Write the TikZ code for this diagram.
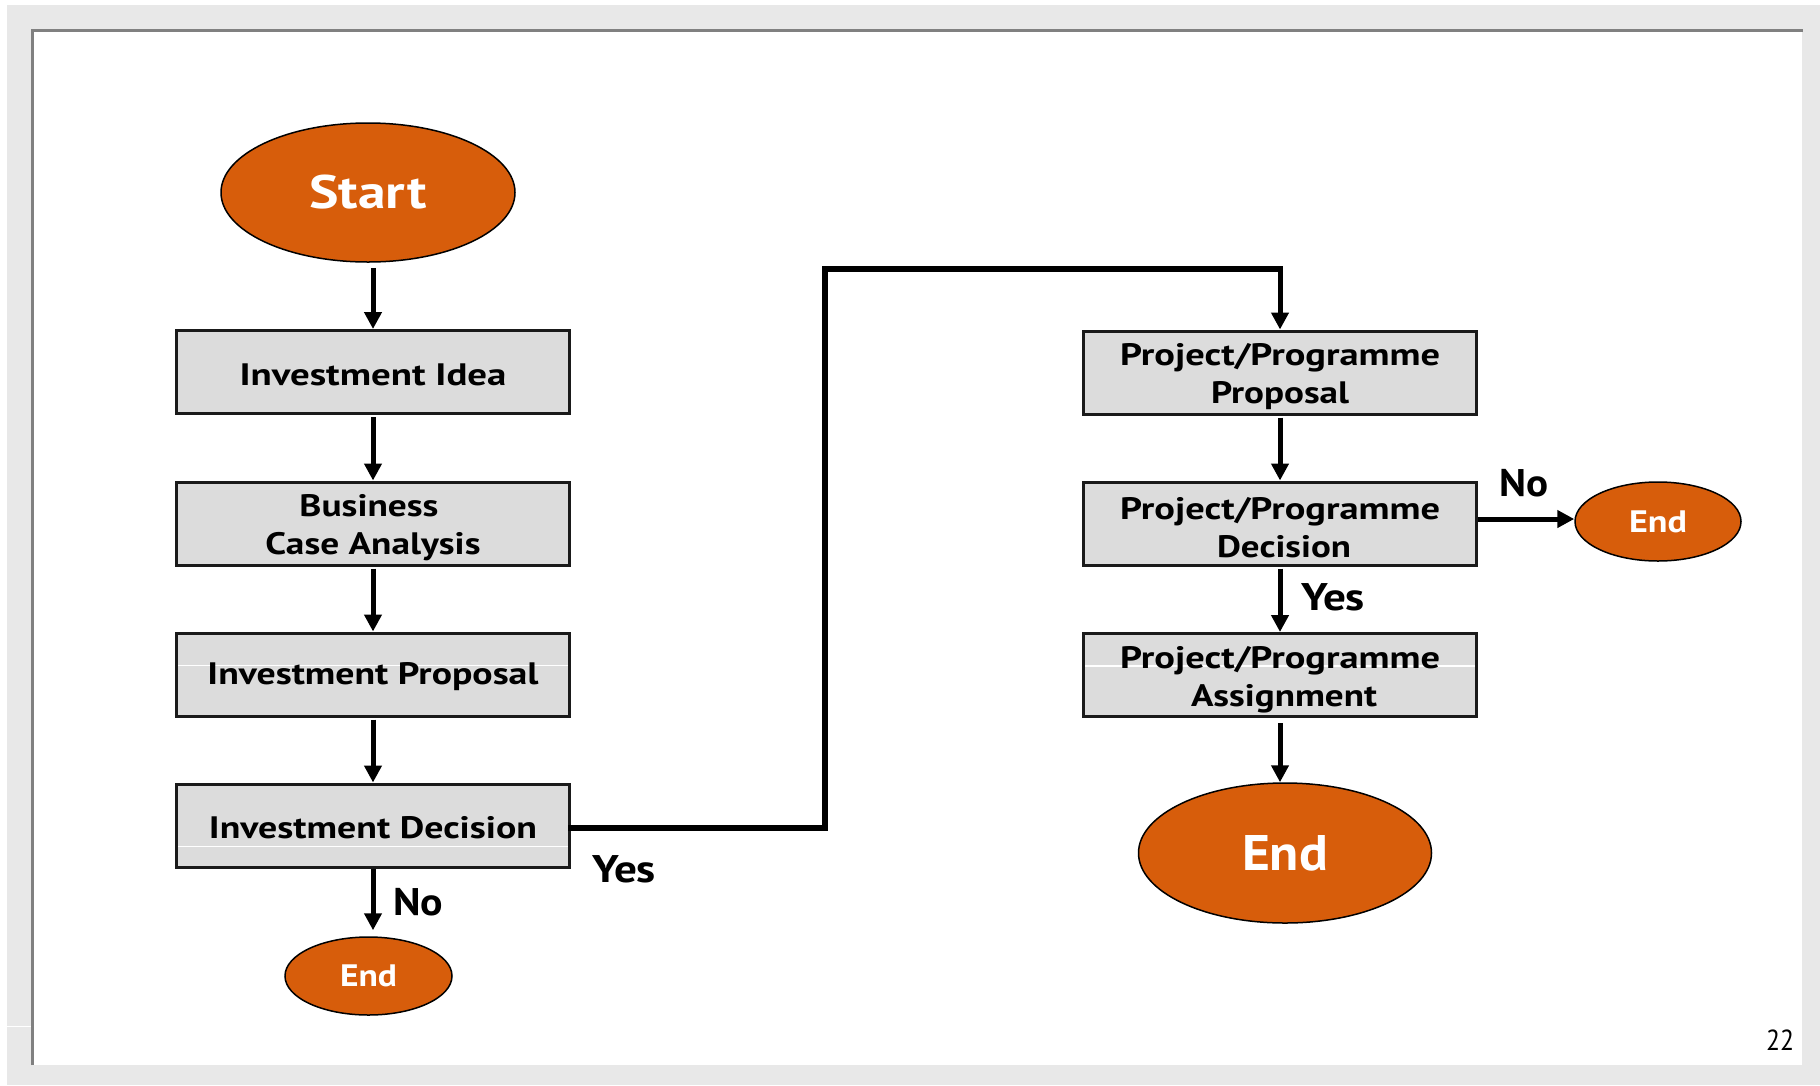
\documentclass[tikz,border=0pt]{standalone}
\usepackage{graphicx}
\usepackage{fontspec}
\setmainfont{PT Sans}
\usetikzlibrary{arrows.meta,shapes.geometric}

\definecolor{bgGray}{HTML}{E8E8E8}
\definecolor{frameGray}{HTML}{808080}
\definecolor{termOrange}{HTML}{D75D0B}
\definecolor{boxFill}{HTML}{DCDCDC}
\definecolor{boxEdge}{HTML}{1A1A1A}

% set a text at a given width, keeping its height
\newcommand\wfit[2]{\resizebox{#1pt}{\height}{#2}}
\newcommand\boxfont{\fontsize{31}{38}\selectfont\bfseries}
\newcommand\tagfont{\fontsize{38.5}{40}\selectfont\bfseries}

\begin{document}
\begin{tikzpicture}[x=1pt,y=-1pt,
  box/.style={draw=boxEdge, line width=3pt, fill=boxFill,
    minimum width=393pt, minimum height=83pt, inner sep=0pt},
  boxtext/.style={font=\boxfont, align=center, inner sep=0pt, yshift=-#1},
  boxtext/.default=2.5pt,
  seam/.style={path picture={\draw[white,line width=1.2pt]
    ([yshift=-#1]path picture bounding box.north west) --
    ([yshift=-#1]path picture bounding box.north east);}},
  term/.style={ellipse, draw=black, line width=1.5pt, fill=termOrange,
    text=white, inner sep=0pt, font=\bfseries},
  flow/.style={draw=black, line width=5pt,
    -{Triangle[length=17pt,width=17pt]}},
  trunk/.style={draw=black, line width=6.5pt, line cap=rect},
  tag/.style={inner sep=0pt, font=\tagfont}
]
\useasboundingbox (0,0) rectangle (1820,1085);

% page background and slide panel
\fill[white] (0,0) rectangle (1820,1085);
\fill[bgGray] (7,5) rectangle (1820,1085);
\fill[white] (32,31) rectangle (1802,1065);
\draw[frameGray, line width=3pt] (32.5,1065) -- (32.5,30.5) -- (1803,30.5);
\draw[white, line width=1pt] (7,1026) -- (31,1026);

% terminals
\node[term, minimum width=294pt, minimum height=139pt] (start) at (368,192.5)
  {\fontsize{47}{47}\selectfont\wfit{117}{Start}};
\node[term, minimum width=167pt, minimum height=78pt] (endL) at (368.5,976)
  {\fontsize{31}{31}\selectfont\wfit{57}{End}};
\node[term, minimum width=166pt, minimum height=79pt] (endR) at (1658,521.5)
  {\fontsize{31}{31}\selectfont\wfit{58}{End}};
\node[term, minimum width=293pt, minimum height=140pt] (endB) at (1285,853)
  {\fontsize{50}{50}\selectfont\wfit{86}{End}};

% left column
\node[box, label={[boxtext]center:{\wfit{267}{Investment Idea}}}]
  (idea) at (373,372) {};
\node[box, label={[boxtext=4.5pt]center:{\hspace*{-8pt}\wfit{139}{Business}\\\wfit{215}{Case Analysis}}}]
  (bca) at (373,523.5) {};
\node[box, seam=32.5pt, label={[boxtext]center:{\wfit{331}{Investment Proposal}}}]
  (prop) at (373,674.5) {};
\node[box, seam=62.5pt, label={[boxtext]center:{\wfit{328}{Investment Decision}}}]
  (dec) at (373,825.5) {};

% right column
\node[box, label={[boxtext=4.5pt]center:{\wfit{320}{Project/Programme}\\\wfit{138}{Proposal}}}]
  (p1) at (1280,372.5) {};
\node[box, label={[boxtext=4.5pt]center:{\wfit{320}{Project/Programme}\\\hspace*{8pt}\wfit{134}{Decision}}}]
  (p2) at (1280,523.5) {};
\node[box, seam=32.5pt, label={[boxtext=4.5pt]center:{\wfit{320}{Project/Programme}\\\hspace*{8pt}\wfit{186}{Assignment}}}]
  (p3) at (1280,675) {};

% connectors, left column
\coordinate (s0) at ([yshift=-5pt]start.south);
\draw[flow] (s0 -| idea.north) -- (idea.north);
\draw[flow] ([yshift=-2pt]idea.south) -- (bca.north);
\draw[flow] ([yshift=-2pt]bca.south) -- (prop.north);
\draw[flow] ([yshift=-2pt]prop.south) -- (dec.north);
\draw[flow, shorten >=6pt] (dec.south) -- (dec.south |- endL.north);

% connector from the investment decision to the project proposal
\coordinate (bendA) at (825,269);
\coordinate (bendB) at (p1.north |- bendA);
\draw[trunk] ([yshift=-2.5pt]dec.east) -| (bendA) -- (bendB);
\draw[flow] (bendB) -- (p1.north);

% connectors, right column
\draw[flow] ([yshift=-2pt]p1.south) -- (p2.north);
\draw[flow] ([yshift=-2pt]p2.south) -- (p3.north);
\coordinate (b0) at ([yshift=-5pt]p3.south);
\draw[flow] (b0) -- (b0 |- endB.north);
\coordinate (r0) at ([yshift=4.5pt]p2.east);
\draw[flow] (r0) -- (r0 -| endR.west);

% branch labels
\node[tag] (noL) at (418,902) {\wfit{50}{No}};
\node[tag] (yesL) at (624,869) {\wfit{64}{Yes}};
\node[tag] (noR) at (1524,483) {\wfit{49}{No}};
\node[tag] (yesR) at (1333,597) {\wfit{64}{Yes}};

% page number
\node[inner sep=0pt, font=\fontsize{29}{29}\selectfont] (pageno) at (1780,1040) {\wfit{28}{22}};
\end{tikzpicture}
\end{document}
